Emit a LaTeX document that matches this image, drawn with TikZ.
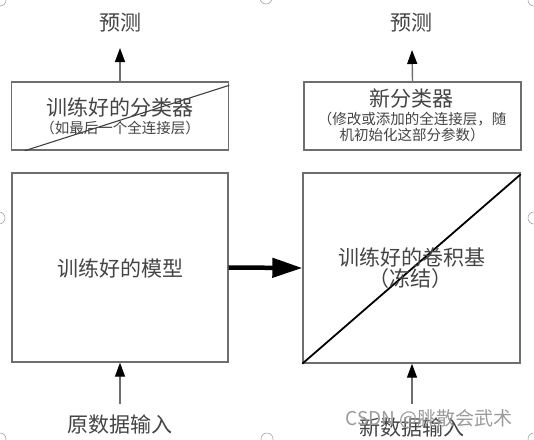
\documentclass[tikz,border=0pt]{standalone}
\usepackage{fontspec}
\setmainfont{Noto Sans CJK SC}
\usetikzlibrary{arrows.meta,calc}
\definecolor{txt}{HTML}{444444}
\definecolor{bord}{HTML}{6E6E6E}
\definecolor{wm}{HTML}{9A9A9A}
\begin{document}
\begin{tikzpicture}[x=1pt,y=-1pt,
  box/.style={draw=bord,line width=1.4pt,inner sep=0pt},
  big/.style={font=\fontsize{21}{25}\selectfont,text=txt,inner sep=0pt},
  small/.style={font=\fontsize{14.5}{17}\selectfont,text=txt,inner sep=0pt,align=center},
  thinarrow/.style={draw=bord,line width=1.4pt,-{Triangle[length=14pt,width=10pt,fill=black,color=black]}},
  fatarrow/.style={draw=black,line width=4.5pt,-{Triangle[length=30pt,width=19pt]}},
  handle/.style={draw=gray!70,line width=0.6pt,fill=white}
]
\useasboundingbox (0,0) rectangle (534,439);
% selection handles
\foreach \p in {(0,0),(266,-2),(534,0),(-1,218),(534,218),(0,439),(267,439),(534,439)}
  \draw[handle] \p circle (6);
% boxes
\node[box,minimum width=217pt,minimum height=68pt] (lt) at (120,116) {};
\node[box,minimum width=217pt,minimum height=68pt] (rt) at (412.5,116) {};
\node[box,minimum width=216pt,minimum height=189pt] (lb) at (120,267.5) {};
\node[box,minimum width=217pt,minimum height=190pt] (rb) at (411.5,268) {};
% diagonals
\draw[draw=black!75,line width=1.1pt] ($(lt.south west)+(14,0)$) -- ($(lt.north east)+(0,4)$);
\draw[draw=black,line width=1.8pt] (rb.south west) -- ($(rb.north east)+(0,2)$);
% labels
\node[big] (ltt) at (120,107) {训练好的分类器};
\node[small] (lts) at (120,128) {（如最后一个全连接层）};
\node[big] (rtt) at (411,99) {新分类器};
\node[small] (rts) at (412,127) {（修改或添加的全连接层，随\\[-0.5pt]机初始化这部分参数）};
\node[big] (lbt) at (120,268) {训练好的模型};
\node[big] (rbt) at (412,257) {训练好的卷积基};
\node[big] (rbs) at (410,279) {（冻结）};
\node[big] (p1) at (120,23) {预测};
\node[big] (p2) at (411,23) {预测};
\node[big] (in1) at (120,425) {原数据输入};
\node[big] (in2) at (412,428) {新数据输入};
\node[font=\fontsize{19}{22}\selectfont,text=wm,inner sep=0pt] (wmk) at (429,419) {CSDN @脁散会武术};
% arrow free ends
\coordinate (t1) at (120,48);
\coordinate (t2) at (412,50);
\coordinate (b1) at (120,404);
\coordinate (b2) at (412,404);
% arrows
\draw[thinarrow] (lt.north) -- (t1);
\draw[thinarrow] (rt.north) -- (t2);
\draw[thinarrow] (b1) -- (lb.south);
\draw[thinarrow] (b2) -- (b2 |- rb.south);
\draw[fatarrow] (lb.east) -- (rb.west);
\end{tikzpicture}
\end{document}
